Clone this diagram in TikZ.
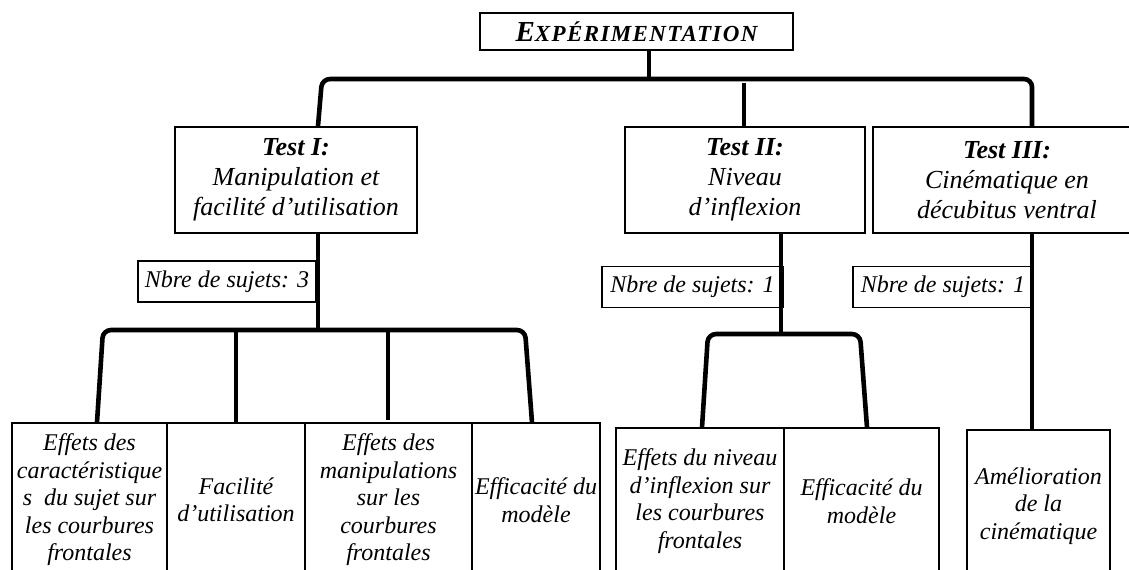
\documentclass[tikz,border=0pt]{standalone}
\usepackage{fontspec}
\setmainfont{Liberation Serif}
\usepackage{tikz}

\begin{document}
\begin{tikzpicture}[x=0.5pt,y=-0.5pt,
  headbox/.style={draw,line width=1pt,inner sep=0pt,font=\bfseries\itshape,
    minimum width=156.5pt,minimum height=18.5pt},
  testbox/.style={draw,line width=1pt,inner sep=0pt,align=center,
    font=\fontsize{13}{15}\selectfont\itshape,minimum height=53pt},
  countbox/.style={draw,line width=0.75pt,inner sep=0pt,
    font=\fontsize{12}{14}\selectfont\itshape,minimum height=20.5pt},
  cellbox/.style={draw,line width=0.6pt,inner sep=0pt,align=center,
    font=\fontsize{12}{13.75}\selectfont\itshape},
  branch/.style={line width=2.3pt}]
\useasboundingbox (0,0) rectangle (1129,569);
\clip (0,0) rectangle (1129,569);

\node[headbox] (expe) at (636.5,31.5)
  {\fontsize{14.5}{16}\selectfont E\fontsize{11.5}{12}\selectfont\addfontfeatures{LetterSpace=6}XPÉRIMENTATION};

\node[testbox,minimum width=121pt] (testI) at (296,180)
  {\textbf{Test I:}\\Manipulation et\\facilité d’utilisation};
\node[testbox,minimum width=120pt] (testII) at (745,180)
  {\textbf{Test II:}\\Niveau\\d’inflexion};
\node[testbox,minimum width=134pt] (testIII) at (1007,180)
  {\textbf{Test III:}\\Cinématique en\\décubitus ventral};

\node[countbox,minimum width=89pt] (nbreI) at (227,281.5) {Nbre de sujets: 3};
\node[countbox,minimum width=90.5pt] (nbreII) at (692.5,287) {Nbre de sujets: 1};
\node[countbox,minimum width=90pt] (nbreIII) at (943,287) {Nbre de sujets: 1};

\node[cellbox,minimum width=77.5pt,minimum height=77pt] (effA) at (89.5,500)
  {Effets des\\caractéristique\\s\ \ du sujet sur\\les courbures\\frontales};
\node[cellbox,minimum width=69pt,minimum height=77pt] (facil) at (236,500)
  {Facilité\\d’utilisation};
\node[cellbox,minimum width=83.5pt,minimum height=77pt] (effB) at (388.5,500)
  {Effets des\\manipulations\\sur les\\courbures\\frontales};
\node[cellbox,minimum width=64pt,minimum height=77pt] (efficI) at (536,500)
  {Efficacité du\\modèle};

\node[cellbox,minimum width=84pt,minimum height=73pt] (effC) at (700,501)
  {Effets du niveau\\d’inflexion sur\\les courbures\\frontales};
\node[cellbox,minimum width=77.5pt,minimum height=73pt] (efficII) at (861.5,501)
  {Efficacité du\\modèle};
\node[cellbox,minimum width=71.5pt,minimum height=76pt] (amel) at (1038.5,506)
  {Amélioration\\de la\\cinématique};

\coordinate (kE) at (649,79);
\coordinate (kI) at (322,79);
\coordinate (kII) at (744,83);
\coordinate (kIII) at (1032,79);
\draw[branch] (expe.south -| kE) -- (kE);
\draw[branch,rounded corners=4pt] ([xshift=11pt]testI.north) -- (kI) -- (kIII)
  -- (testIII.north -| kIII);
\draw[branch] (testII.north -| kII) -- (kII);

\coordinate (jI) at (318,330);
\coordinate (jIa) at (103,330);
\coordinate (jIb) at (236,330);
\coordinate (jIc) at (388,330);
\coordinate (jId) at (525,330);
\draw[branch] (testI.south -| jI) -- (jI);
\draw[branch,rounded corners=4pt] ([xshift=3.75pt]effA.north) -- (jIa) -- (jId)
  -- ([xshift=-2pt]efficI.north);
\draw[branch] (jIb) -- (facil.north);
\draw[branch] (jIc) -- ([yshift=1pt]effB.north -| jIc);

\coordinate (jII) at (781,334);
\coordinate (jIIa) at (708,334);
\coordinate (jIIb) at (860,334);
\draw[branch] (testII.south -| jII) -- (jII);
\draw[branch,rounded corners=4pt] ([xshift=1pt]effC.north) -- (jIIa) -- (jIIb)
  -- ([xshift=2.75pt]efficII.north);

\draw[branch] (testIII.south -| kIII) -- (amel.north -| kIII);
\end{tikzpicture}
\end{document}
